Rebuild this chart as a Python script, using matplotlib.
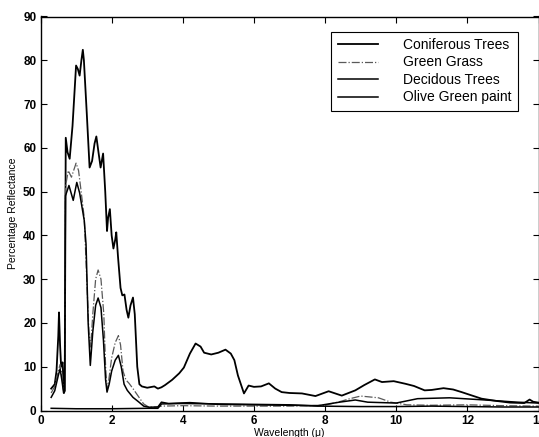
import matplotlib
matplotlib.use("Agg")
import matplotlib.pyplot as plt

# spectral reflectance (wavelength in microns, %)
conifer_w = [0.3, 0.4, 0.45, 0.5, 0.52, 0.55, 0.58, 0.62, 0.66, 0.68, 0.71, 0.76, 0.82, 0.9,
             1.0, 1.05, 1.1, 1.15, 1.19, 1.22, 1.3, 1.38, 1.45, 1.52, 1.57, 1.63, 1.69, 1.76,
             1.82, 1.87, 1.9, 1.95, 2.0, 2.05, 2.1, 2.13, 2.18, 2.25, 2.3, 2.36, 2.42, 2.47,
             2.53, 2.6, 2.65, 2.72, 2.78, 2.85, 3.0, 3.2, 3.3, 3.4, 3.5, 3.7, 3.9, 4.03, 4.2,
             4.36, 4.5, 4.6, 4.8, 5.0, 5.2, 5.35, 5.45, 5.55, 5.72, 5.85, 6.0, 6.2, 6.42, 6.6,
             6.78, 7.0, 7.35, 7.73, 8.1, 8.47, 8.85, 9.1, 9.4, 9.6, 9.93, 10.26, 10.5, 10.8,
             11.0, 11.33, 11.6, 11.84, 12.1, 12.4, 12.8, 13.2, 13.6, 13.75, 13.85, 14.0]
conifer_r = [5.0, 6.0, 9.0, 17.0, 22.4, 15.0, 10.0, 11.0, 4.0, 4.5, 62.3, 59.0, 57.5, 65.0,
             78.8, 78.0, 76.5, 80.0, 82.4, 80.0, 68.0, 55.5, 57.0, 61.0, 62.6, 59.0, 55.5, 58.7,
             50.0, 41.0, 44.0, 46.0, 40.0, 37.0, 39.0, 40.7, 35.0, 28.0, 26.3, 26.5, 23.0, 21.2,
             24.0, 25.8, 22.0, 10.0, 6.0, 5.5, 5.2, 5.5, 5.0, 5.3, 5.8, 7.0, 8.5, 9.8, 13.0,
             15.3, 14.6, 13.2, 12.8, 13.2, 13.9, 13.0, 11.5, 8.0, 3.9, 5.7, 5.4, 5.5, 6.2, 5.0,
             4.2, 4.0, 3.9, 3.3, 4.4, 3.4, 4.6, 5.8, 7.1, 6.5, 6.7, 6.1, 5.6, 4.6,
             4.7, 5.1, 4.8, 4.2, 3.5, 2.7, 2.2, 1.8, 1.7, 2.5, 2.0, 1.8]

grass_w = [0.3, 0.4, 0.5, 0.55, 0.6, 0.65, 0.68, 0.7, 0.78, 0.87, 1.0, 1.07, 1.14, 1.23, 1.3,
           1.36, 1.41, 1.47, 1.55, 1.62, 1.7, 1.78, 1.83, 1.87, 1.92, 2.0, 2.1, 2.19, 2.25,
           2.32, 2.4, 2.49, 2.6, 2.77, 2.9, 3.05, 3.3, 3.4, 4.0, 5.0, 6.0, 7.0, 8.0, 8.4, 8.7,
           9.0, 9.5, 9.85, 10.3, 11.0, 12.0, 13.0, 14.0]
grass_r = [4.0, 5.5, 9.0, 10.5, 8.0, 4.5, 5.0, 51.0, 54.8, 53.3, 56.5, 54.8, 50.2, 44.0, 30.0,
           18.0, 14.5, 22.0, 30.0, 32.1, 30.0, 22.0, 10.0, 5.0, 7.0, 12.0, 15.5, 17.1, 15.0,
           9.0, 7.0, 6.2, 5.0, 3.0, 1.5, 0.75, 0.8, 1.0, 1.1, 1.0, 1.0, 1.0, 1.2, 2.0, 2.7,
           3.3, 2.9, 1.9, 1.3, 1.2, 1.3, 1.1, 1.0]

decid_w = [0.3, 0.4, 0.5, 0.55, 0.6, 0.65, 0.68, 0.7, 0.8, 0.92, 1.02, 1.1, 1.23, 1.28, 1.34,
           1.4, 1.47, 1.55, 1.62, 1.7, 1.77, 1.83, 1.87, 1.93, 2.0, 2.1, 2.19, 2.27, 2.35,
           2.44, 2.6, 2.77, 2.9, 3.05, 3.3, 3.4, 3.6, 4.2, 5.0, 6.0, 7.0, 7.8, 8.4, 8.85, 9.2,
           10.0, 10.6, 11.5, 12.5, 13.4, 14.0]
decid_r = [3.0, 4.5, 8.0, 9.5, 7.0, 4.0, 4.5, 49.0, 51.4, 48.0, 52.1, 49.7, 43.4, 38.0, 20.0,
           10.3, 18.0, 24.0, 25.7, 23.5, 16.0, 7.0, 4.2, 6.0, 9.0, 11.5, 12.6, 10.0, 6.0,
           4.6, 3.0, 1.9, 1.0, 0.75, 0.8, 1.9, 1.6, 1.8, 1.4, 1.3, 1.2, 1.1, 1.9, 2.4, 1.9,
           1.7, 2.7, 2.9, 2.4, 1.9, 1.7]

paint_w = [0.3, 1.0, 2.0, 3.0, 3.3, 3.4, 4.0, 5.0, 6.0, 7.0, 7.8, 9.0, 10.0, 11.0, 12.0, 13.0, 14.0]
paint_r = [0.5, 0.4, 0.4, 0.5, 0.5, 1.5, 1.6, 1.5, 1.4, 1.3, 1.0, 0.9, 0.9, 1.0, 0.9, 0.8, 0.8]

plt.rcParams['font.family'] = ['Liberation Sans', 'DejaVu Sans']

fig = plt.figure(figsize=(5.39, 4.37), dpi=100)
ax = fig.add_axes([40.5 / 539, 26.5 / 437, 498 / 539, 394 / 437])

ax.plot(conifer_w, conifer_r, color='black', lw=1.3, label='Coniferous Trees')
ax.plot(grass_w, grass_r, color='0.35', lw=0.9, ls='-.', label='Green Grass')
ax.plot(decid_w, decid_r, color='black', lw=1.1, label='Decidous Trees')
ax.plot(paint_w, paint_r, color='black', lw=1.1, label='Olive Green paint')

ax.set_xlim(0, 14)
ax.set_ylim(0, 90)
ax.set_xticks(range(0, 15, 2))
ax.set_yticks(range(0, 91, 10))
ax.tick_params(direction='in', top=True, right=True, length=4, width=0.8,
               labelsize=8.5, pad=3)
for lab in ax.get_xticklabels() + ax.get_yticklabels():
    lab.set_fontweight('bold')
for s in ax.spines.values():
    s.set_linewidth(1.0)

ax.set_xlabel('Wavelength (\u03bc)', fontsize=7.5, labelpad=1)
ax.set_ylabel('Percentage Reflectance', fontsize=7.5, labelpad=4)

leg = ax.legend(loc='upper right', bbox_to_anchor=(0.972, 0.979), fontsize=10,
                handlelength=2.9, handletextpad=1.8, labelspacing=0.25,
                borderpad=0.45, fancybox=False, framealpha=1)
leg.get_frame().set_edgecolor('black')
leg.get_frame().set_linewidth(0.8)

fig.savefig('out.png', dpi=100)
